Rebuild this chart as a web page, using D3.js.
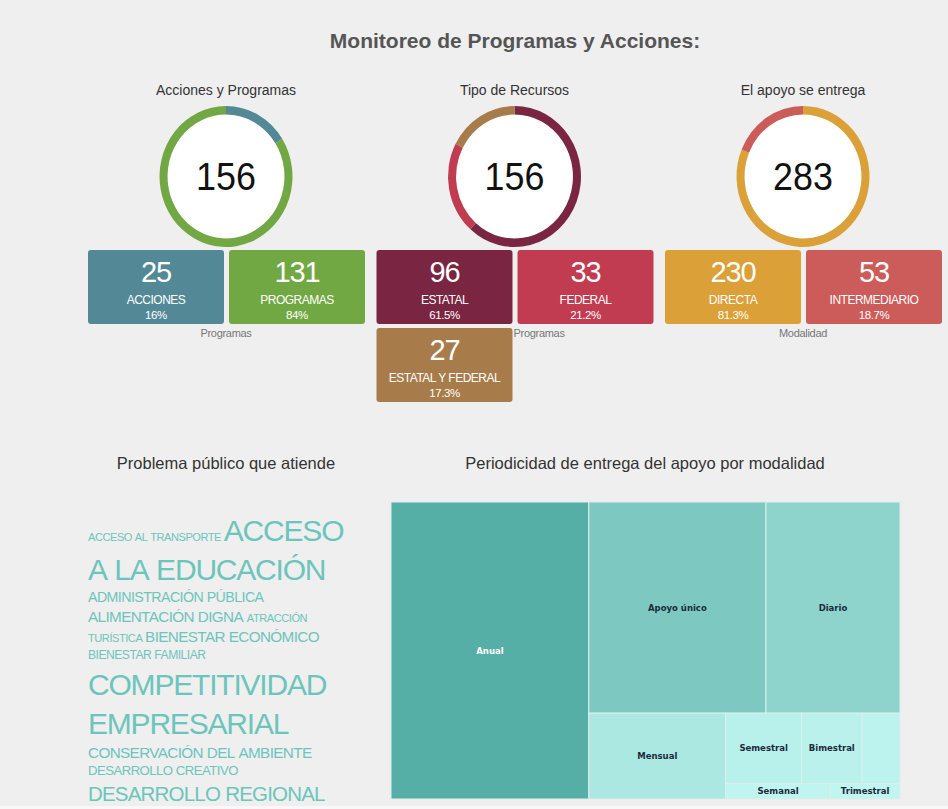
<!DOCTYPE html>
<html>
<head>
<meta charset="utf-8">
<script src="https://cdn.jsdelivr.net/npm/d3@7"></script>
<style>
  html, body { margin: 0; padding: 0; background: #efefef; }
  svg { display: block; font-family: "Liberation Sans", Arial, sans-serif; }
</style>
</head>
<body>
<svg width="948" height="809"></svg>
<script>
// --- indicadores (donas + cajas)
const donutTitles = ['Acciones y Programas', 'Tipo de Recursos', 'El apoyo se entrega'];
const donutFooters = ['Programas', 'Programas', 'Modalidad'];
const accionesLabels = ['ACCIONES', 'PROGRAMAS'];
const accionesValues = [25, 131];
const recursosLabels = ['ESTATAL', 'FEDERAL', 'ESTATAL Y FEDERAL'];
const recursosValues = [96, 33, 27];
const entregaLabels = ['DIRECTA', 'INTERMEDIARIO'];
const entregaValues = [230, 53];
const donutColors = [['#538996', '#72a843'], ['#7a2541', '#c13c50', '#a87c4a'], ['#dba038', '#cc5c5a']];

// --- problema publico (nube de palabras)
const problemas = ['ACCESO AL TRANSPORTE', 'ACCESO A LA EDUCACIÓN', 'ADMINISTRACIÓN PÚBLICA',
  'ALIMENTACIÓN DIGNA', 'ATRACCIÓN TURÍSTICA', 'BIENESTAR ECONÓMICO', 'BIENESTAR FAMILIAR',
  'COMPETITIVIDAD EMPRESARIAL', 'CONSERVACIÓN DEL AMBIENTE', 'DESARROLLO CREATIVO', 'DESARROLLO REGIONAL'];
const problemasConteo = [2, 20, 5, 6, 2, 6, 3, 20, 6, 4, 11];

// --- periodicidad (treemap)
const periodos = ['Anual', 'Apoyo único', 'Diario', 'Mensual', 'Semestral', 'Bimestral', 'Cuatrimestral', 'Semanal', 'Trimestral'];
const periodosValores = [110, 70, 53, 22, 10, 8, 5, 3, 2];
const franjas = [1, 2, 1, 3, 2]; // celdas por franja
const franjaColumna = [true, false, true, false, false];

const svg = d3.select('svg');

svg.append('text')
  .attr('x', 515).attr('y', 48)
  .attr('text-anchor', 'middle')
  .style('font-size', '21px').style('font-weight', 'bold')
  .attr('fill', '#555')
  .text('Monitoreo de Programas y Acciones:');

const groups = [
  { labels: accionesLabels, values: accionesValues },
  { labels: recursosLabels, values: recursosValues },
  { labels: entregaLabels, values: entregaValues },
];

const pie = d3.pie().sort(null).value((d) => d);
const arc = d3.arc().innerRadius(62).outerRadius(70.5);
const pct = (v) => `${+(v * 100).toFixed(1)}%`;

groups.forEach((grp, i) => {
  const cx = 226 + i * 288.5;
  const total = d3.sum(grp.values);
  const colors = donutColors[i];

  svg.append('text')
    .attr('x', cx).attr('y', 95)
    .attr('text-anchor', 'middle')
    .style('font-size', '14px')
    .attr('fill', '#333')
    .text(donutTitles[i]);

  const donut = svg.append('g')
    .attr('transform', `translate(${cx},176.5) scale(0.943,1)`);
  donut.append('circle').attr('r', 62).attr('fill', '#fff');
  donut.selectAll('path')
    .data(pie(grp.values))
    .join('path')
    .attr('d', arc)
    .attr('fill', (d, k) => colors[k]);
  donut.append('text')
    .attr('y', 13.5)
    .attr('text-anchor', 'middle')
    .style('font-size', '38px')
    .attr('fill', '#111')
    .text(total);

  const boxes = svg.append('g').selectAll('g')
    .data(grp.values.map((v, k) => ({ v, label: grp.labels[k], color: colors[k], k })))
    .join('g')
    .attr('transform', (d) => `translate(${cx - 138 + (d.k % 2) * 141},${250 + Math.floor(d.k / 2) * 78})`);
  boxes.append('rect')
    .attr('width', 136).attr('height', 74).attr('rx', 3)
    .attr('fill', (d) => d.color);
  boxes.append('text')
    .attr('x', 68).attr('y', 32)
    .attr('text-anchor', 'middle')
    .style('font-size', '29px')
    .attr('letter-spacing', '-1.2px')
    .attr('fill', '#fff')
    .text((d) => d.v);
  boxes.append('text')
    .attr('x', 68).attr('y', 54)
    .attr('text-anchor', 'middle')
    .style('font-size', '12px')
    .attr('letter-spacing', '-0.5px')
    .attr('fill', '#fff')
    .text((d) => d.label);
  boxes.append('text')
    .attr('x', 68).attr('y', 69)
    .attr('text-anchor', 'middle')
    .style('font-size', '11.5px')
    .attr('letter-spacing', '-0.4px')
    .attr('fill', '#fff')
    .text((d) => pct(d.v / total));

  const odd = grp.values.length % 2 === 1;
  svg.append('text')
    .attr('x', odd ? cx - 1 : cx)
    .attr('y', 337)
    .attr('text-anchor', odd ? 'start' : 'middle')
    .style('font-size', '11px')
    .attr('letter-spacing', '-0.3px')
    .attr('fill', '#777')
    .text(donutFooters[i]);
});

// --- encabezados inferiores
svg.append('text')
  .attr('x', 226).attr('y', 469)
  .attr('text-anchor', 'middle')
  .style('font-size', '16.5px')
  .attr('fill', '#333')
  .text('Problema público que atiende');
svg.append('text')
  .attr('x', 645).attr('y', 469)
  .attr('text-anchor', 'middle')
  .style('font-size', '16.5px')
  .attr('fill', '#333')
  .text('Periodicidad de entrega del apoyo por modalidad');

// --- nube de palabras, flujo en lineas
const fontSize = d3.scaleLinear().domain([1, 20]).range([10, 30]);
const tokens = [];
problemas.forEach((p, i) => p.split(' ').forEach((w) => tokens.push({ w, size: fontSize(problemasConteo[i]) })));

const cloud = svg.append('g');
const words = cloud.selectAll('text')
  .data(tokens)
  .join('text')
  .style('font-size', (d) => `${d.size}px`)
  .attr('letter-spacing', (d) => `${-0.04 * d.size}px`)
  .attr('fill', '#6cc5bb')
  .text((d) => d.w);
words.each(function (d) { d.width = this.getComputedTextLength(); });

const cloudLeft = 88;
const cloudWidth = 265;
const lines = [];
let line = null;
let cursor = 0;
tokens.forEach((t, i) => {
  const space = i > 0 ? tokens[i - 1].size * 0.25 : 0;
  if (!line || cursor + space + t.width > cloudWidth) {
    line = [];
    lines.push(line);
    cursor = 0;
  } else {
    cursor += space;
  }
  t.x = cloudLeft + cursor;
  cursor += t.width;
  line.push(t);
});
let baseline = 507;
let prevMax = 0;
lines.forEach((ln) => {
  const m = d3.max(ln, (t) => t.size);
  baseline += 0.2 * prevMax + 1.12 * m;
  ln.forEach((t) => { t.y = baseline; });
  prevMax = m;
});
words.attr('x', (d) => d.x).attr('y', (d) => d.y);

// --- treemap
function franjaTile(parent, x0, y0, x1, y1) {
  const nodes = parent.children;
  let value = parent.value;
  let i0 = 0;
  franjas.forEach((n, k) => {
    const row = { children: nodes.slice(i0, i0 + n) };
    row.value = d3.sum(row.children, (c) => c.value);
    if (franjaColumna[k]) d3.treemapSlice(row, x0, y0, x0 += (x1 - x0) * row.value / value, y1);
    else d3.treemapDice(row, x0, y0, x1, y0 += (y1 - y0) * row.value / value);
    value -= row.value;
    i0 += n;
  });
}

const root = d3.hierarchy({ children: periodos.map((p, i) => ({ name: p, value: periodosValores[i] })) })
  .sum((d) => d.value || 0);
d3.treemap().size([509, 297]).tile(franjaTile)(root);

const color = d3.scaleLinear()
  .domain(d3.extent(periodosValores))
  .range(['#c0f5f0', '#56afa6']);

const tm = svg.append('g').attr('transform', 'translate(391,502)');
const cells = tm.selectAll('g')
  .data(root.leaves())
  .join('g')
  .attr('transform', (d) => `translate(${d.x0},${d.y0})`);
cells.append('rect')
  .attr('width', (d) => d.x1 - d.x0)
  .attr('height', (d) => d.y1 - d.y0)
  .attr('fill', (d) => color(d.value))
  .attr('stroke', '#dcefec')
  .attr('stroke-width', 1);
cells.append('text')
  .attr('x', (d) => (d.x1 - d.x0) / 2)
  .attr('y', (d) => (d.y1 - d.y0) / 2 + 3)
  .attr('text-anchor', 'middle')
  .style('font-family', '"DejaVu Sans", Verdana, sans-serif')
  .style('font-size', '8.5px')
  .style('font-weight', 'bold')
  .attr('fill', (d) => (d3.hsl(color(d.value)).l < 0.55 ? '#fff' : '#1b2b3b'))
  .text((d) => d.data.name)
  .each(function (d) {
    if (this.getComputedTextLength() + 6 > d.x1 - d.x0) d3.select(this).remove();
  });

// borde inferior de la pagina
svg.append('rect')
  .attr('x', 0).attr('y', 806).attr('width', 948).attr('height', 3)
  .attr('fill', '#f8f8f8');
</script>
</body>
</html>
